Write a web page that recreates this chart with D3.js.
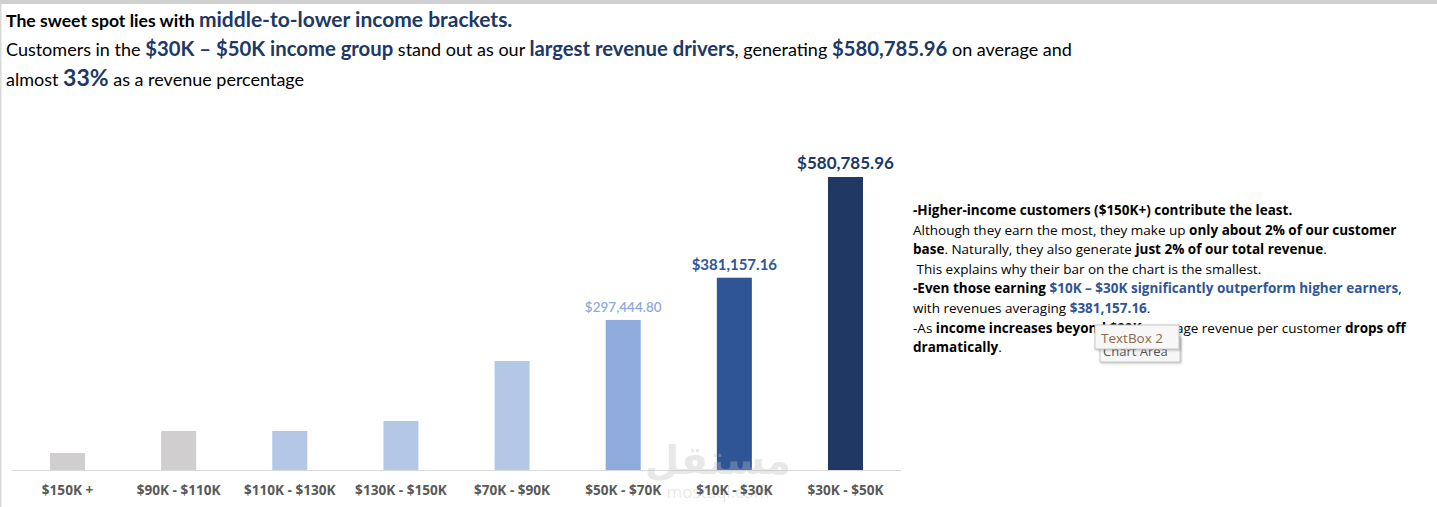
<!DOCTYPE html>
<html>
<head>
<meta charset="utf-8">
<script src="https://cdn.jsdelivr.net/npm/d3@7"></script>
<style>
  html, body { margin: 0; padding: 0; background: #fff; }
  svg { display: block; }
</style>
</head>
<body>
<div id="chart"></div>
<script>
// Average revenue by income bracket
const brackets = ["$150K +", "$90K - $110K", "$110K - $130K", "$130K - $150K",
                  "$70K - $90K", "$50K - $70K", "$10K - $30K", "$30K - $50K"];
const revenue = [33700, 77300, 77300, 97100, 216000, 297444.80, 381157.16, 580785.96];
const barColors = ["#D0CECE", "#D0CECE", "#B4C7E7", "#B4C7E7", "#B4C7E7", "#8FAADC", "#2F5597", "#203864"];
// only the three top brackets carry a value label
const labelled = [false, false, false, false, false, true, true, true];
const labelSizes = [0, 0, 0, 0, 0, 13.5, 15, 17];
const labelWeights = [0, 0, 0, 0, 0, 600, 700, 700];

const navy = "#203864";
const blue = "#2F5597";

// header text, as [text, style] segments
const headLines = [
  [["The sweet spot lies with ", "b"], ["middle-to-lower income brackets.", "hb"]],
  [["Customers in the ", "r"], ["$30K \u2013 $50K income group", "hb2"], [" stand out as our ", "r"],
   ["largest revenue drivers", "hb2"], [", generating ", "r"], ["$580,785.96", "hb2"], [" on average and", "r"]],
  [["almost ", "r"], ["33%", "big"], [" as a revenue percentage", "r"]]
];

const noteLines = [
  [["-Higher-income customers ($150K+) contribute the least.", "b"]],
  [["Although they earn the most, they make up ", "r"], ["only about 2% of our customer", "b"]],
  [["base", "b"], [". Naturally, they also generate ", "r"], ["just 2% of our total revenue", "b"], [".", "r"]],
  [["\u00a0This explains why their bar on the chart is the smallest.", "r"]],
  [["-Even those earning ", "b"], ["$10K \u2013 $30K significantly outperform higher earners", "bb"], [",", "r"]],
  [["with revenues averaging ", "r"], ["$381,157.16", "bb"], [".", "r"]],
  [["-As ", "r"], ["income increases beyond $90K", "b"], [", average revenue per customer ", "r"], ["drops off", "b"]],
  [["dramatically", "b"], [".", "r"]]
];

const W = 1437, H = 507;
const svg = d3.select("#chart").append("svg")
    .attr("width", W)
    .attr("height", H);

// frame: grey strip on top, thin line on the left
svg.append("rect").attr("x", 0).attr("y", 0).attr("width", W).attr("height", 4).attr("fill", "#D0D0D0");
svg.append("rect").attr("x", 0).attr("y", 4).attr("width", 1.5).attr("height", H - 4).attr("fill", "#D9D9D9");

// header
const headFont = "Lato, 'Open Sans', sans-serif";
const headStyles = {
  b:   {size: 17.6, weight: 700, color: "#000"},
  hb:  {size: 21, weight: 700, color: navy},
  hb2: {size: 20.3, weight: 700, color: navy},
  r:   {size: 18, weight: 400, color: "#000"},
  big: {size: 23, weight: 700, color: navy}
};
const headY = [27, 56, 86];
headLines.forEach((line, i) => {
  const t = svg.append("text")
      .attr("x", 6)
      .attr("y", headY[i])
      .style("font-family", headFont);
  line.forEach(([txt, st]) => {
    const s = headStyles[st];
    t.append("tspan")
        .style("font-size", s.size + "px")
        .style("font-weight", s.weight)
        .attr("fill", s.color)
        .text(txt);
  });
});

// bar chart
const x = d3.scaleBand()
    .domain(brackets)
    .range([12, 901])
    .paddingInner(0.685)
    .paddingOuter(0.342);

const y = d3.scaleLinear()
    .domain([0, 600000])
    .range([470, 470 - 600000 / 1982.2]);

svg.selectAll(".bar")
    .data(brackets)
    .enter()
    .append("rect")
    .attr("class", "bar")
    .attr("x", d => x(d))
    .attr("y", (d, i) => y(revenue[i]))
    .attr("width", x.bandwidth())
    .attr("height", (d, i) => y(0) - y(revenue[i]))
    .attr("fill", (d, i) => barColors[i]);

// baseline
svg.append("line")
    .attr("x1", 12).attr("x2", 901)
    .attr("y1", y(0) + 0.5).attr("y2", y(0) + 0.5)
    .attr("stroke", "#D9D9D9")
    .attr("stroke-width", 1.2);

// watermark (sits behind the category labels)
const wm = svg.append("g").attr("opacity", 0.35).attr("fill", "#BFBFBF");
wm.append("text")
    .attr("x", 718).attr("y", 474)
    .attr("text-anchor", "middle")
    .style("font-family", "'Noto Sans', 'DejaVu Sans', sans-serif")
    .style("font-size", "40px")
    .style("font-weight", 700)
    .text("مستقل");
wm.append("text")
    .attr("x", 718).attr("y", 498)
    .attr("text-anchor", "middle")
    .style("font-family", "'Open Sans', sans-serif")
    .style("font-size", "17px")
    .text("mostaql.com");

// category labels
const xAxis = svg.append("g")
    .attr("transform", `translate(0,${y(0)})`)
    .call(d3.axisBottom(x).tickSize(0).tickPadding(15));
xAxis.select(".domain").remove();
xAxis.selectAll("text")
    .style("font-family", "'Open Sans', 'Noto Sans', sans-serif")
    .style("font-size", "13.6px")
    .style("font-weight", 700)
    .attr("fill", "#595959");

// value labels
const fmt = d3.format("$,.2f");
svg.selectAll(".val")
    .data(brackets.filter((d, i) => labelled[i]))
    .enter()
    .append("text")
    .attr("class", "val")
    .attr("x", d => x(d) + x.bandwidth() / 2)
    .attr("y", d => y(revenue[brackets.indexOf(d)]) - 8)
    .attr("text-anchor", "middle")
    .style("font-family", headFont)
    .style("font-size", d => labelSizes[brackets.indexOf(d)] + "px")
    .style("font-weight", d => labelWeights[brackets.indexOf(d)])
    .attr("fill", d => barColors[brackets.indexOf(d)])
    .text(d => fmt(revenue[brackets.indexOf(d)]));

// side note
const noteFont = "'Open Sans', 'Noto Sans', sans-serif";
const noteStyles = {
  r:  {weight: 400, color: "#000"},
  b:  {weight: 700, color: "#000"},
  bb: {weight: 700, color: blue}
};
noteLines.forEach((line, i) => {
  const t = svg.append("text")
      .attr("x", 913)
      .attr("y", 215 + i * 19.6)
      .style("font-family", noteFont)
      .style("font-size", "13.5px");
  line.forEach(([txt, st]) => {
    const s = noteStyles[st];
    t.append("tspan")
        .style("font-weight", s.weight)
        .attr("fill", s.color)
        .text(txt);
  });
});

// Excel hover tooltips left in the screenshot
const tip = svg.append("g");
tip.append("rect")
    .attr("x", 1100).attr("y", 337).attr("width", 80).attr("height", 25)
    .attr("fill", "#F7F7F7").attr("stroke", "#C8C8C8")
    .style("filter", "drop-shadow(1px 1px 1px rgba(0,0,0,0.25))");
tip.append("text")
    .attr("x", 1103).attr("y", 356)
    .style("font-family", noteFont).style("font-size", "13px")
    .attr("fill", "#555").text("Chart Area");
tip.append("rect")
    .attr("x", 1095).attr("y", 325).attr("width", 84).attr("height", 24)
    .attr("fill", "#F7F7F7").attr("stroke", "#C8C8C8")
    .style("filter", "drop-shadow(1px 1px 1px rgba(0,0,0,0.25))");
tip.append("text")
    .attr("x", 1101).attr("y", 343)
    .style("font-family", noteFont).style("font-size", "13.5px")
    .attr("fill", "#8A6A4A").text("TextBox 2");
</script>
</body>
</html>
